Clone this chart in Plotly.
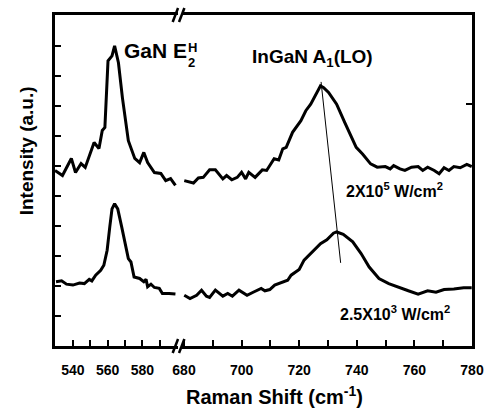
import plotly.graph_objects as go

# ---------------- data ----------------
# Upper spectrum (2X10^5 W/cm^2)
upper_left_x = [529.7, 534, 539.1, 541.5, 544.7, 547.1, 552.2, 555, 556.9, 558.4, 560.2, 562.5, 564,
                566.2, 568.5, 571.9, 575.6, 578.4, 580.8, 583, 586.9, 590.6, 593.4, 596.2, 599]
upper_left_y = [5.85, 5.68, 6.25, 5.78, 6.08, 5.95, 6.78, 6.58, 7.18, 7.28, 9.50, 9.67, 10.00,
                9.44, 8.27, 6.84, 6.25, 6.11, 6.45, 6.11, 5.78, 5.75, 5.51, 5.58, 5.35]
upper_right_x = [680.1, 683.3, 685, 686.7, 688.9, 690.9, 693.5, 694.8, 696.6, 698.5, 700, 701.4, 702.5,
                 704.7, 707.2, 708.7, 711.3, 712.9, 714.3, 715.5, 717.7, 720.6, 722.3, 724, 727.4,
                 728.5, 730.2, 733, 735.8, 738.1, 739.8, 742, 744.8, 747.1, 749.9, 751.6, 752.8,
                 755, 756.7, 759, 761.3, 762.9, 764.6, 766.9, 768.6, 770.3, 772, 773.7, 775.9,
                 778.2, 779.9]
upper_right_y = [5.51, 5.43, 5.60, 5.62, 5.87, 5.87, 5.57, 5.68, 5.54, 5.62, 5.79, 5.57, 5.79,
                 5.62, 5.87, 5.85, 6.24, 6.20, 6.57, 6.62, 7.12, 7.51, 7.84, 8.06, 8.67,
                 8.61, 8.45, 8.06, 7.45, 6.95, 6.62, 6.40, 6.07, 5.96, 5.98, 5.90, 6.01,
                 5.90, 5.85, 5.96, 5.98, 5.85, 5.96, 5.85, 5.74, 5.94, 5.85, 5.98, 5.94,
                 6.05, 5.98]

# Lower spectrum (2.5X10^3 W/cm^2)
lower_left_x = [530.3, 533.5, 536.3, 540, 543.8, 546.6, 549.4, 550.9, 553.1, 556, 557.8, 559.7,
                561.2, 562.5, 564, 565.8, 568.1, 570.3, 571.9, 573.4, 575.2, 578.4, 580.8,
                582.1, 583, 584.9, 586.9, 589.7, 591.5, 595.3, 599]
lower_left_y = [2.14, 2.17, 2.06, 2.03, 2.10, 2.08, 2.22, 2.17, 2.36, 2.52, 2.69, 3.19,
                3.96, 4.57, 4.74, 4.57, 3.96, 3.30, 2.91, 2.80, 2.30, 2.25, 2.14,
                2.22, 1.97, 2.06, 1.95, 1.92, 1.75, 1.75, 1.73]
lower_right_x = [680.1, 682.1, 684.4, 686.1, 687.8, 688.9, 690.9, 693.5, 695.2, 696.8, 699.1,
                 701.9, 704.2, 706.8, 708.1, 709.8, 711.5, 713.8, 716, 717.2, 720, 721.7, 724,
                 727.4, 729.6, 731.9, 733, 735.3, 738.6, 741.5, 744.3, 747.7, 751.1, 754.5,
                 757.9, 761.3, 764.6, 767.5, 770.3, 773.7, 777.1, 779.9]
lower_right_y = [1.69, 1.58, 1.69, 1.86, 1.66, 1.62, 1.86, 1.66, 1.75, 1.66, 1.86,
                 1.69, 1.80, 1.92, 1.84, 1.88, 2.03, 2.10, 2.19, 2.36, 2.55, 2.86, 3.08,
                 3.41, 3.54, 3.76, 3.80, 3.72, 3.47, 3.08, 2.63, 2.25, 2.08, 1.95,
                 1.84, 1.73, 1.84, 1.79, 1.88, 1.90, 1.94, 1.94]

# peak-shift guide line (x in cm^-1, y in a.u.)
shift_line_x = [727.6, 734.4]
shift_line_y = [8.80, 2.77]

left_tickvals = [540, 550, 560, 570, 580, 590]
left_ticktext = ["540", "", "560", "", "580", ""]
right_tickvals = [680, 690, 700, 710, 720, 730, 740, 750, 760, 770, 780]
right_ticktext = ["680", "", "700", "", "720", "", "740", "", "760", "", "780"]
y_tickvals = [1, 2, 3, 4, 5, 6, 7, 8, 9, 10]

# ---------------- layout geometry ----------------
W, H = 496, 410
L, R, T, B = 55, 14, 14, 64
PW, PH = W - L - R, H - T - B


def px(x):
    return (x - L) / PW


def py(y):
    return (H - B - y) / PH


FONT = "Arial, Liberation Sans, sans-serif"
LINE = dict(color="black", width=3)

fig = go.Figure()
fig.add_trace(go.Scatter(x=upper_left_x, y=upper_left_y, mode="lines", line=LINE, xaxis="x", yaxis="y"))
fig.add_trace(go.Scatter(x=lower_left_x, y=lower_left_y, mode="lines", line=LINE, xaxis="x", yaxis="y"))
fig.add_trace(go.Scatter(x=upper_right_x, y=upper_right_y, mode="lines", line=LINE, xaxis="x2", yaxis="y2"))
fig.add_trace(go.Scatter(x=lower_right_x, y=lower_right_y, mode="lines", line=LINE, xaxis="x2", yaxis="y2"))
fig.add_trace(go.Scatter(x=shift_line_x, y=shift_line_y, mode="lines", line=dict(color="black", width=1),
                         xaxis="x2", yaxis="y2"))

axis_common = dict(showline=True, linecolor="black", linewidth=3, ticks="inside", ticklen=6,
                   tickwidth=2, tickcolor="black", showgrid=False, zeroline=False)
tickfont = dict(family=FONT, size=14, color="black", weight="bold")

fig.update_layout(
    width=W, height=H, margin=dict(l=L, r=R, t=T, b=B),
    paper_bgcolor="white", plot_bgcolor="white", showlegend=False,
    font=dict(family=FONT, color="black"),
    xaxis=dict(domain=[0, px(181)], range=[529.7, 600.5], tickvals=left_tickvals, ticktext=left_ticktext,
               mirror=True, tickfont=tickfont, ticklabelstandoff=9, anchor="y", **axis_common),
    xaxis2=dict(domain=[px(185), 1], range=[679.3, 780], tickvals=right_tickvals, ticktext=right_ticktext,
                mirror=True, tickfont=tickfont, ticklabelstandoff=9, anchor="y2", **axis_common),
    yaxis=dict(domain=[0, 1], range=[0, 11.03], tickvals=y_tickvals, showticklabels=False,
               anchor="x", **axis_common),
    yaxis2=dict(domain=[0, 1], range=[0, 11.03], tickvals=[8.07], showticklabels=False,
                anchor="x2", side="right", **axis_common),
)

# axis break marks
for yb in (14, 346):
    for x0 in (175.5, 182):
        fig.add_shape(type="line", xref="paper", yref="paper",
                      x0=px(x0), y0=py(yb + 7), x1=px(x0 + 5.5), y1=py(yb - 7),
                      line=dict(color="black", width=2.5))


def ann(text, x, y, size, xanchor="left", angle=0):
    fig.add_annotation(text=text, xref="paper", yref="paper", x=px(x), y=py(y),
                       xanchor=xanchor, yanchor="middle", showarrow=False, textangle=angle,
                       font=dict(family=FONT, size=size, color="black", weight="bold"))


ann("GaN E", 124, 50, 21)
ann("H", 189, 47, 13)
ann("2", 189, 62, 13)
ann("InGaN A<sub>1</sub>(LO)", 255, 57, 19)
ann("2X10<sup>5</sup> W/cm<sup>2</sup>", 351, 190, 16)
ann("2.5X10<sup>3</sup> W/cm<sup>2</sup>", 345, 313, 16)
ann("Raman Shift (cm<sup>-1</sup>)", 280, 396, 20, xanchor="center")
ann("Intensity (a.u.)", 26, 150, 19, xanchor="center", angle=-90)

fig.write_html("out.html")
